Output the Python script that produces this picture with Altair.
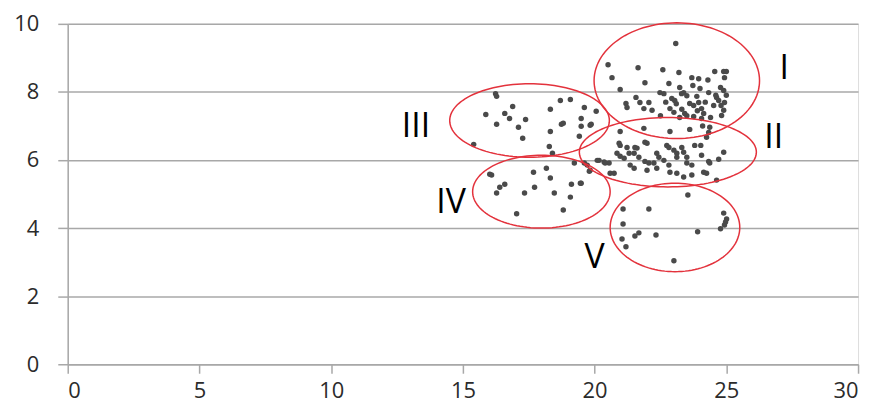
import altair as alt
import numpy as np
import pandas as pd

# ---- scatter data ----
x_vals = [
    # group I
    23.08, 20.51, 20.66, 21.65, 22.59, 23.20, 24.56, 24.90, 24.93, 23.69, 23.95, 21.91, 22.82,
    23.23, 23.73, 20.97, 22.48, 22.63, 24.33, 24.78, 24.90, 23.38, 23.50, 21.57, 22.93, 23.04,
    23.88, 23.95, 24.63, 24.71, 21.19, 21.23, 21.72, 21.87, 22.06, 22.18, 23.61, 23.76, 22.86,
    23.01, 23.31, 23.42, 24.06, 24.14, 24.52, 24.90, 24.93, 23.23, 23.76, 24.06, 24.82, 24.37,
    24.33, 24.25, 22.86, 23.61, 21.87, 20.97,
    23.50, 24.20, 24.60, 23.10, 24.40, 25.00, 22.50, 24.00, 24.80, 23.30, 22.70, 24.30, 25.00,
    24.10, 23.90,
    # group II
    20.97, 21.23, 21.61, 21.91, 21.99, 22.74, 23.31, 20.93, 21.53, 20.85, 20.97, 21.12, 20.17,
    20.36, 20.55, 21.31, 21.50, 21.68, 21.91, 22.06, 22.36, 22.44, 22.63, 22.82, 23.01, 23.12,
    23.12, 23.38, 23.50, 23.50, 23.69, 23.80, 24.03, 24.06, 24.33, 24.37, 24.71, 24.90, 19.72,
    19.83, 20.59, 21.35, 21.50, 22.25, 22.36, 22.82, 22.86, 23.12, 23.38, 23.69, 24.14, 24.25,
    24.63, 19.46, 20.74, 21.99, 20.10, 20.40, 19.80, 19.23, 19.61,
    # group III
    16.24, 16.28, 16.89, 15.87, 16.59, 16.77, 17.38, 16.28, 17.11, 17.27, 15.41, 18.70, 19.08,
    18.32, 19.61, 20.06, 19.49, 18.74, 18.81, 18.32, 19.49, 19.83, 19.87, 19.42, 18.28, 18.40,
    # group IV
    16.02, 16.09, 16.59, 16.40, 16.28, 17.68, 18.17, 18.32, 17.72, 17.34, 18.47, 17.04, 18.81,
    19.08, 19.12, 19.49,
    # group V
    23.54, 21.08, 22.06, 24.90, 25.01, 24.97, 24.93, 24.78, 21.08, 23.91, 21.68, 21.53, 22.33,
    21.04, 21.19, 23.01,
]
y_vals = [
    # group I
    9.42, 8.80, 8.42, 8.71, 8.65, 8.57, 8.60, 8.60, 8.42, 8.42, 8.39, 8.27, 8.25,
    8.13, 8.19, 8.07, 7.98, 7.95, 7.98, 8.13, 8.04, 7.98, 7.89, 7.84, 7.81, 7.75,
    7.87, 7.69, 7.84, 7.75, 7.66, 7.54, 7.69, 7.51, 7.69, 7.46, 7.66, 7.60, 7.51,
    7.40, 7.49, 7.37, 7.51, 7.37, 7.60, 7.46, 7.69, 7.25, 7.28, 7.22, 7.31, 6.96,
    6.81, 6.67, 6.84, 6.90, 6.93, 6.84,
    7.30, 7.70, 7.90, 7.65, 7.25, 7.90, 7.30, 8.10, 7.60, 7.95, 7.70, 8.35, 8.60,
    7.00, 7.45,
    # group II
    6.43, 6.37, 6.35, 6.52, 6.49, 6.43, 6.37, 6.49, 6.37, 6.20, 6.11, 6.05, 5.99,
    5.94, 5.91, 6.20, 6.20, 6.08, 5.96, 5.91, 6.20, 6.08, 5.99, 6.37, 6.29, 6.20,
    6.08, 6.23, 6.08, 5.91, 5.85, 6.43, 6.43, 6.14, 5.96, 5.91, 6.02, 6.23, 5.85,
    5.70, 5.61, 5.85, 5.76, 5.91, 5.76, 5.85, 5.64, 5.61, 5.50, 5.56, 5.64, 5.61,
    5.41, 5.32, 5.61, 5.70, 5.99, 5.91, 5.67, 5.91, 5.91,
    # group III
    7.95, 7.87, 7.57, 7.34, 7.37, 7.22, 7.19, 7.05, 6.96, 6.64, 6.46, 7.75, 7.78,
    7.49, 7.54, 7.43, 7.22, 7.05, 7.08, 6.84, 6.99, 7.02, 7.05, 6.70, 6.40, 6.20,
    # group IV
    5.58, 5.56, 5.29, 5.20, 5.03, 5.64, 5.76, 5.47, 5.20, 5.03, 5.03, 4.42, 4.53,
    4.91, 5.29, 5.32,
    # group V
    4.97, 4.56, 4.56, 4.44, 4.27, 4.18, 4.09, 3.98, 4.12, 3.89, 3.86, 3.77, 3.80,
    3.68, 3.45, 3.04,
]

# ---- cluster ellipses (annotation) ----
cluster_names = ["I", "II", "III", "IV", "V"]
ell_cx = [23.12, 22.78, 17.53, 17.98, 23.05]
ell_cy = [8.33, 6.23, 7.16, 5.07, 4.02]
ell_rx = [3.14, 3.36, 3.03, 2.61, 2.46]
ell_ry = [1.70, 1.02, 1.08, 1.07, 1.30]

# ---- cluster labels ----
label_x = [27.2, 26.8, 13.22, 14.55, 20.0]
label_y = [8.68, 6.64, 6.96, 4.74, 3.13]

x_ticks = [0, 5, 10, 15, 20, 25, 30]
y_ticks = [0, 2, 4, 6, 8, 10]

pts = pd.DataFrame({"x": x_vals, "y": y_vals})

rows = []
t = np.linspace(0, 2 * np.pi, 121)
for name, cx, cy, rx, ry in zip(cluster_names, ell_cx, ell_cy, ell_rx, ell_ry):
    for i, a in enumerate(t):
        rows.append({"x": cx + rx * np.cos(a), "y": cy + ry * np.sin(a), "g": name, "k": i})
ell = pd.DataFrame(rows)

labels = pd.DataFrame({"x": label_x, "y": label_y, "txt": cluster_names})

GRID = "#a8a8a8"
xscale = alt.Scale(domain=[0, 30], nice=False, zero=False)
yscale = alt.Scale(domain=[0, 10], nice=False, zero=False)

xaxis = alt.Axis(values=x_ticks, grid=False, domain=True, domainColor=GRID, domainWidth=1.5,
                 ticks=True, tickColor=GRID, tickWidth=1.5, tickSize=9,
                 labelFontSize=22, labelColor="#2b2b2b", labelFont="Open Sans",
                 labelPadding=7, title=None)
yaxis = alt.Axis(values=y_ticks, grid=True, gridColor=GRID, gridWidth=1.5,
                 domain=True, domainColor=GRID, domainWidth=1.5,
                 ticks=True, tickColor=GRID, tickWidth=1.5, tickSize=10,
                 labelFontSize=22, labelColor="#2b2b2b", labelFont="Open Sans",
                 labelPadding=19, title=None)

points = alt.Chart(pts).mark_circle(size=30, color="#4a4a4a", opacity=1).encode(
    x=alt.X("x:Q", scale=xscale, axis=xaxis),
    y=alt.Y("y:Q", scale=yscale, axis=yaxis),
)

ellipses = alt.Chart(ell).mark_line(color="#e3323c", strokeWidth=1.5).encode(
    x=alt.X("x:Q", scale=xscale),
    y=alt.Y("y:Q", scale=yscale),
    detail="g:N",
    order="k:Q",
)

texts = alt.Chart(labels).mark_text(fontSize=34, font="Open Sans", color="#000000",
                                    align="center", baseline="middle").encode(
    x=alt.X("x:Q", scale=xscale),
    y=alt.Y("y:Q", scale=yscale),
    text="txt:N",
)

chart = alt.layer(points, ellipses, texts).properties(
    width=794, height=342,
    autosize=alt.AutoSizeParams(type="none"),
    padding={"left": 60, "top": 15, "right": 12, "bottom": 41},
).configure_view(stroke=None).configure(background="white")

chart.save("out.html", embed_options={"renderer": "svg", "actions": False})
